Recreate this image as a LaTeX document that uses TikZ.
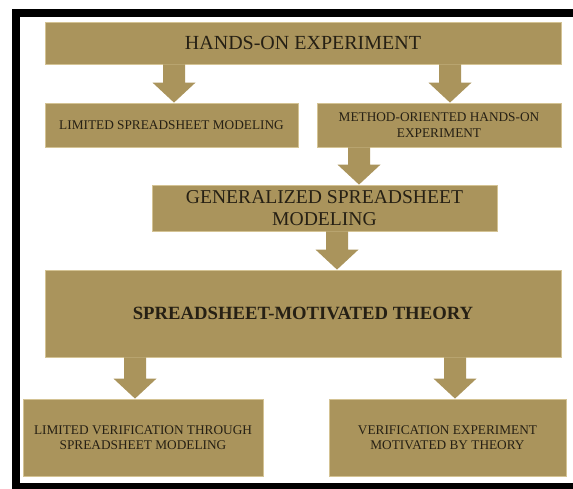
\documentclass[tikz,border=0pt]{standalone}
\usepackage{fontspec}
\setmainfont{Liberation Serif}
\usetikzlibrary{calc}
\definecolor{gold}{RGB}{170,148,92}
\definecolor{goldedge}{RGB}{212,195,148}
\definecolor{ink}{RGB}{38,32,20}
\newcommand\blkarrow[3]{%
  \path (#2.south -| #1) coordinate (bs) (#3.north -| #1) coordinate (bt);
  \fill[arr] ($(bs)+(-11,0)$) -- ($(bs)+(11,0)$) -- ($(bt)+(11,-20)$) -- ($(bt)+(21.5,-20)$)
     -- (bt) -- ($(bt)+(-21.5,-20)$) -- ($(bt)+(-11,-20)$) -- cycle;}
\begin{document}
\begin{tikzpicture}[x=1pt,y=-1pt,
  box/.style={draw=goldedge, line width=0.8pt, fill=gold, inner sep=0pt, align=center, text=ink},
  small/.style={font=\fontsize{13.3}{16}\selectfont},
  arr/.style={fill=gold, draw=none}]
\useasboundingbox (0,0) rectangle (573,489);
\clip (0,0) rectangle (573,489);
\fill[white] (0,0) rectangle (573,489);
\fill[black] (12,9) rectangle (600,500);
\fill[white] (19.5,17) rectangle (600,483);

\node[box, minimum width=516, minimum height=42, font=\fontsize{20}{22}\selectfont] (A) at (303,43) {HANDS-ON EXPERIMENT};
\node[box, small, minimum width=253, minimum height=44] (B) at (171.5,125) {LIMITED SPREADSHEET MODELING};
\node[box, small, minimum width=244, minimum height=44] (C) at (439,125) {METHOD-ORIENTED HANDS-ON\\EXPERIMENT};
\node[box, minimum width=345, minimum height=46, font=\fontsize{19.6}{22}\selectfont] (D) at (324.5,208) {GENERALIZED SPREADSHEET\\MODELING};
\node[box, minimum width=516, minimum height=87, font=\fontsize{18.7}{22}\bfseries\selectfont] (E) at (303,313.5) {SPREADSHEET-MOTIVATED THEORY};
\node[box, minimum width=240, minimum height=77, font=\fontsize{13.3}{15}\selectfont] (F) at (143,437.5) {LIMITED VERIFICATION THROUGH\\SPREADSHEET MODELING};
\node[box, minimum width=237, minimum height=77, font=\fontsize{13.3}{15}\selectfont] (G) at (447.5,437.5) {VERIFICATION EXPERIMENT\\MOTIVATED BY THEORY};

\coordinate (x1) at (174,0);
\coordinate (x2) at (450,0);
\coordinate (x3) at (359,0);
\coordinate (x4) at (337,0);
\coordinate (x5) at (135,0);
\coordinate (x6) at (455,0);
\blkarrow{x1}{A}{B}
\blkarrow{x2}{A}{C}
\blkarrow{x3}{C}{D}
\blkarrow{x4}{D}{E}
\blkarrow{x5}{E}{F}
\blkarrow{x6}{E}{G}
\end{tikzpicture}
\end{document}
